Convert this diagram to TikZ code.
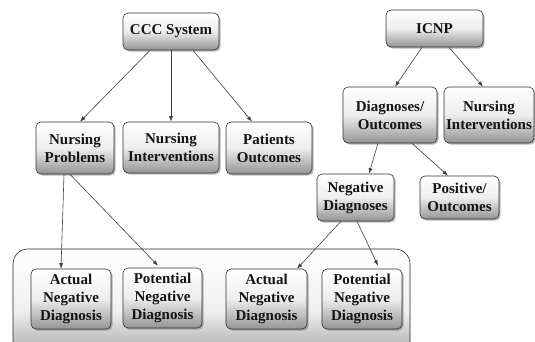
\documentclass[tikz,border=0pt]{standalone}
\usepackage{fontspec}
\setmainfont{Liberation Serif}
\usetikzlibrary{shadows,arrows.meta}

\tikzset{
  box/.style={
    draw=black!80, line width=0.6pt, rounded corners=5pt,
    top color=white, bottom color=black!42, middle color=black!7,
    drop shadow={shadow xshift=1.6pt, shadow yshift=-1.6pt, opacity=0.45, fill=black!60},
    inner sep=0pt, align=center,
    font=\fontsize{15}{18}\selectfont\bfseries, text=black!92
  },
  link/.style={draw=black!75, line width=0.6pt, -{Latex[length=5.5pt,width=4pt]}},
  holder/.style={draw=black!85, line width=0.6pt, rounded corners=15pt,
    top color=white, bottom color=black!45, middle color=black!6}
}

\begin{document}
\begin{tikzpicture}[x=1pt,y=-1pt]
  \clip (0,0) rectangle (535,341);
  \fill[white] (0,0) rectangle (535,341);

  % lower holder frame for the diagnosis types
  \path[holder] (13,249) rectangle (410,372);

  % CCC System branch
  \node[box, minimum width=96pt, minimum height=37pt] (ccc) at (171,31.5) {CCC System};
  \node[box, minimum width=78pt, minimum height=52pt] (np) at (75,148) {Nursing\\Problems};
  \node[box, minimum width=96pt, minimum height=51pt] (ni1) at (171,147.5) {Nursing\\Interventions};
  \node[box, minimum width=86pt, minimum height=52pt] (po) at (269,148) {Patients\\Outcomes};

  % ICNP branch
  \node[box, minimum width=97pt, minimum height=37pt] (icnp) at (434.5,28.5) {ICNP};
  \node[box, minimum width=94pt, minimum height=56pt] (dx) at (390,115) {Diagnoses/\\Outcomes};
  \node[box, minimum width=90pt, minimum height=56pt] (ni2) at (489,115) {Nursing\\Interventions};
  \node[box, minimum width=77pt, minimum height=47pt] (neg) at (355.5,197.5) {Negative\\Diagnoses};
  \node[box, minimum width=79pt, minimum height=43pt] (pos) at (459.5,197.5) {Positive/\\Outcomes};

  % diagnosis types
  \node[box, minimum width=80pt, minimum height=60pt] (a1) at (71,299) {Actual\\Negative\\Diagnosis};
  \node[box, minimum width=79pt, minimum height=60pt] (p1) at (162.5,298) {Potential\\Negative\\Diagnosis};
  \node[box, minimum width=81pt, minimum height=60pt] (a2) at (266.5,299) {Actual\\Negative\\Diagnosis};
  \node[box, minimum width=80pt, minimum height=60pt] (p2) at (362,299) {Potential\\Negative\\Diagnosis};

  % connectors
  \draw[link] ([xshift=-21pt]ccc.south) -- ([xshift=5pt]np.north);
  \draw[link] (ccc.south) -- (ni1.north);
  \draw[link] ([xshift=22pt]ccc.south) -- ([xshift=-17pt]po.north);
  \draw[link] ([xshift=-11pt]np.south) -- ([xshift=-10pt]a1.north);
  \draw[link] ([xshift=-5pt]np.south) -- ([xshift=-4.5pt,yshift=2pt]p1.north);
  \draw[link] ([xshift=-12.5pt]icnp.south) -- ([xshift=5pt]dx.north);
  \draw[link] ([xshift=14.5pt]icnp.south) -- ([xshift=-6pt]ni2.north);
  \draw[link] ([xshift=-12pt]dx.south) -- ([xshift=13.5pt]neg.north);
  \draw[link] ([xshift=22pt]dx.south) -- ([xshift=-11.5pt]pos.north);
  \draw[link] ([xshift=-14.5pt]neg.south) -- ([xshift=30.5pt]a2.north);
  \draw[link] ([xshift=1.5pt]neg.south) -- ([xshift=16pt,yshift=3pt]p2.north);
\end{tikzpicture}
\end{document}
